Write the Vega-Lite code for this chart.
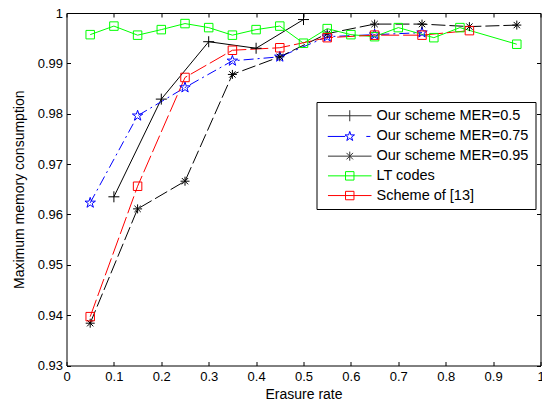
{
  "$schema": "https://vega.github.io/schema/vega-lite/v6.json",
  "width": 474,
  "height": 352.5,
  "autosize": {"type": "none"},
  "padding": {"left": 66.5, "top": 13, "right": 1.5, "bottom": 35.5},
  "background": "white",
  "config": {
    "font": "Liberation Sans",
    "view": {"stroke": null},
    "axis": {"grid": false, "domainColor": "black", "tickColor": "black", "labelColor": "black", "titleColor": "black", "titleFontWeight": "normal", "domainWidth": 1, "tickWidth": 1}
  },
  "data": {
    "values": [
      {"series": "Our scheme MER=0.5", "x": 0.1, "y": 0.9635},
      {"series": "Our scheme MER=0.5", "x": 0.2, "y": 0.9829},
      {"series": "Our scheme MER=0.5", "x": 0.3, "y": 0.9943},
      {"series": "Our scheme MER=0.5", "x": 0.4, "y": 0.993},
      {"series": "Our scheme MER=0.5", "x": 0.5, "y": 0.9987},
      {"series": "Our scheme MER=0.75", "x": 0.05, "y": 0.9623},
      {"series": "Our scheme MER=0.75", "x": 0.15, "y": 0.9796},
      {"series": "Our scheme MER=0.75", "x": 0.25, "y": 0.9852},
      {"series": "Our scheme MER=0.75", "x": 0.35, "y": 0.9905},
      {"series": "Our scheme MER=0.75", "x": 0.45, "y": 0.9913},
      {"series": "Our scheme MER=0.75", "x": 0.55, "y": 0.9953},
      {"series": "Our scheme MER=0.75", "x": 0.65, "y": 0.9957},
      {"series": "Our scheme MER=0.75", "x": 0.75, "y": 0.9961},
      {"series": "Our scheme MER=0.95", "x": 0.05, "y": 0.9384},
      {"series": "Our scheme MER=0.95", "x": 0.15, "y": 0.9611},
      {"series": "Our scheme MER=0.95", "x": 0.25, "y": 0.9666},
      {"series": "Our scheme MER=0.95", "x": 0.35, "y": 0.9878},
      {"series": "Our scheme MER=0.95", "x": 0.45, "y": 0.9913},
      {"series": "Our scheme MER=0.95", "x": 0.55, "y": 0.9959},
      {"series": "Our scheme MER=0.95", "x": 0.65, "y": 0.9978},
      {"series": "Our scheme MER=0.95", "x": 0.75, "y": 0.9978},
      {"series": "Our scheme MER=0.95", "x": 0.85, "y": 0.9973},
      {"series": "Our scheme MER=0.95", "x": 0.95, "y": 0.9976},
      {"series": "LT codes", "x": 0.05, "y": 0.9957},
      {"series": "LT codes", "x": 0.1, "y": 0.9974},
      {"series": "LT codes", "x": 0.15, "y": 0.9956},
      {"series": "LT codes", "x": 0.2, "y": 0.9967},
      {"series": "LT codes", "x": 0.25, "y": 0.9979},
      {"series": "LT codes", "x": 0.3, "y": 0.9971},
      {"series": "LT codes", "x": 0.35, "y": 0.9956},
      {"series": "LT codes", "x": 0.4, "y": 0.9967},
      {"series": "LT codes", "x": 0.45, "y": 0.9974},
      {"series": "LT codes", "x": 0.5, "y": 0.994},
      {"series": "LT codes", "x": 0.55, "y": 0.9969},
      {"series": "LT codes", "x": 0.6, "y": 0.9957},
      {"series": "LT codes", "x": 0.65, "y": 0.9953},
      {"series": "LT codes", "x": 0.7, "y": 0.9971},
      {"series": "LT codes", "x": 0.775, "y": 0.9951},
      {"series": "LT codes", "x": 0.83, "y": 0.9971},
      {"series": "LT codes", "x": 0.95, "y": 0.9938},
      {"series": "Scheme of [13]", "x": 0.05, "y": 0.9397},
      {"series": "Scheme of [13]", "x": 0.15, "y": 0.9656},
      {"series": "Scheme of [13]", "x": 0.25, "y": 0.9872},
      {"series": "Scheme of [13]", "x": 0.35, "y": 0.9926},
      {"series": "Scheme of [13]", "x": 0.45, "y": 0.9931},
      {"series": "Scheme of [13]", "x": 0.55, "y": 0.9951},
      {"series": "Scheme of [13]", "x": 0.65, "y": 0.9956},
      {"series": "Scheme of [13]", "x": 0.75, "y": 0.9956},
      {"series": "Scheme of [13]", "x": 0.85, "y": 0.9965}
    ]
  },
  "encoding": {
    "x": {"field": "x", "type": "quantitative", "scale": {"domain": [0, 1], "nice": false, "zero": false}, "axis": null},
    "y": {"field": "y", "type": "quantitative", "scale": {"domain": [0.93, 1], "nice": false, "zero": false}, "axis": null}
  },
  "resolve": {"axis": {"x": "independent", "y": "independent"}},
  "layer": [
    {
      "transform": [{"filter": "datum.series === 'Our scheme MER=0.5'"}],
      "mark": {"type": "line", "strokeWidth": 1, "stroke": "#000000"},
      "encoding": {
        "x": {"field": "x", "type": "quantitative", "scale": {"domain": [0, 1], "nice": false, "zero": false},
          "axis": {"orient": "bottom", "values": [0, 0.1, 0.2, 0.3, 0.4, 0.5, 0.6, 0.7, 0.8, 0.9, 1], "format": "~g", "tickSize": -4, "labelPadding": 9, "labelFontSize": 13, "labelFlush": false, "labelOverlap": false, "title": "Erasure rate", "titleFontSize": 14, "titlePadding": 4}},
        "y": {"field": "y", "type": "quantitative", "scale": {"domain": [0.93, 1], "nice": false, "zero": false},
          "axis": {"orient": "left", "values": [0.93, 0.94, 0.95, 0.96, 0.97, 0.98, 0.99, 1], "format": "~g", "tickSize": -4, "labelPadding": 8, "labelFontSize": 13, "labelFlush": false, "labelOverlap": false, "title": "Maximum memory consumption", "titleFontSize": 14, "titlePadding": 11}}
      }
    },
    {
      "transform": [{"filter": "datum.series === 'Our scheme MER=0.75'"}],
      "mark": {"type": "line", "strokeWidth": 1, "stroke": "#0000ff", "strokeDash": [10, 4, 2, 4]}
    },
    {
      "transform": [{"filter": "datum.series === 'Our scheme MER=0.95'"}],
      "mark": {"type": "line", "strokeWidth": 1, "stroke": "#000000", "strokeDash": [14, 4]}
    },
    {
      "transform": [{"filter": "datum.series === 'LT codes'"}],
      "mark": {"type": "line", "strokeWidth": 1, "stroke": "#00ff00"}
    },
    {
      "transform": [{"filter": "datum.series === 'Scheme of [13]'"}],
      "mark": {"type": "line", "strokeWidth": 1, "stroke": "#ff0000", "strokeDash": [18, 4]}
    },
    {
      "transform": [{"filter": "datum.series === 'Our scheme MER=0.5'"}],
      "mark": {"type": "point", "shape": "M-1,0L1,0M0,-1L0,1", "filled": false, "stroke": "#000000", "strokeWidth": 1, "size": 121, "opacity": 1}
    },
    {
      "transform": [{"filter": "datum.series === 'Our scheme MER=0.75'"}],
      "mark": {"type": "point", "shape": "M0,-1L0.225,-0.309L0.951,-0.309L0.363,0.118L0.588,0.809L0,0.382L-0.588,0.809L-0.363,0.118L-0.951,-0.309L-0.225,-0.309Z", "filled": false, "stroke": "#0000ff", "strokeWidth": 1, "size": 121, "opacity": 1}
    },
    {
      "transform": [{"filter": "datum.series === 'Our scheme MER=0.95'"}],
      "mark": {"type": "point", "shape": "M-1,0L1,0M0,-1L0,1M-0.7,-0.7L0.7,0.7M-0.7,0.7L0.7,-0.7", "filled": false, "stroke": "#000000", "strokeWidth": 1, "size": 81, "opacity": 1}
    },
    {
      "transform": [{"filter": "datum.series === 'LT codes'"}],
      "mark": {"type": "point", "shape": "M-1,-1L1,-1L1,1L-1,1Z", "filled": false, "stroke": "#00ff00", "strokeWidth": 1, "size": 72, "opacity": 1}
    },
    {
      "transform": [{"filter": "datum.series === 'Scheme of [13]'"}],
      "mark": {"type": "point", "shape": "M-1,-1L1,-1L1,1L-1,1Z", "filled": false, "stroke": "#ff0000", "strokeWidth": 1, "size": 72, "opacity": 1}
    },
    {
      "transform": [{"filter": "false"}],
      "mark": {"type": "point", "filled": false, "strokeWidth": 1, "opacity": 1},
      "encoding": {
        "x": {"field": "x", "type": "quantitative", "scale": {"domain": [0, 1], "nice": false, "zero": false},
          "axis": {"orient": "top", "values": [0, 0.1, 0.2, 0.3, 0.4, 0.5, 0.6, 0.7, 0.8, 0.9, 1], "tickSize": -4, "labels": false, "title": null}},
        "y": {"field": "y", "type": "quantitative", "scale": {"domain": [0.93, 1], "nice": false, "zero": false},
          "axis": {"orient": "right", "values": [0.93, 0.94, 0.95, 0.96, 0.97, 0.98, 0.99, 1], "tickSize": -4, "labels": false, "title": null}},
        "color": {"field": "series", "type": "nominal", "scale": {"domain": ["Our scheme MER=0.5", "Our scheme MER=0.75", "Our scheme MER=0.95", "LT codes", "Scheme of [13]"], "range": ["#333333", "#0000ff", "#333333", "#00ff00", "#ff0000"]},
          "legend": {"title": null, "orient": "none", "legendX": 250, "legendY": 89, "strokeColor": "black", "fillColor": "white", "padding": 6.5, "symbolSize": 169, "symbolStrokeWidth": 1, "symbolOpacity": 1, "labelFontSize": 14.5, "labelColor": "black", "labelOffset": 39, "rowPadding": 4.7, "labelLimit": 400}},
        "shape": {"field": "series", "type": "nominal", "scale": {"domain": ["Our scheme MER=0.5", "Our scheme MER=0.75", "Our scheme MER=0.95", "LT codes", "Scheme of [13]"],
          "range": [
            "M-0.35,0L6.35,0M3,-0.85L3,0.85",
            "M-0.38,0L2.3,0M5.55,0L6.17,0M3,-0.77L3.173,-0.238L3.732,-0.238L3.28,0.091L3.453,0.623L3,0.294L2.547,0.623L2.72,0.091L2.268,-0.238L2.827,-0.238Z",
            "M-0.35,0L6.35,0M3,-0.7L3,0.7M2.5,-0.5L3.5,0.5M2.5,0.5L3.5,-0.5",
            "M-0.35,0L6.35,0M2.35,-0.65L3.65,-0.65L3.65,0.65L2.35,0.65Z",
            "M-0.35,0L6.35,0M2.35,-0.65L3.65,-0.65L3.65,0.65L2.35,0.65Z"
          ]},
          "legend": {"title": null, "orient": "none", "legendX": 250, "legendY": 89, "strokeColor": "black", "fillColor": "white", "padding": 6.5, "symbolSize": 169, "symbolStrokeWidth": 1, "symbolOpacity": 1, "labelFontSize": 14.5, "labelColor": "black", "labelOffset": 39, "rowPadding": 4.7, "labelLimit": 400}}
      }
    }
  ]
}
